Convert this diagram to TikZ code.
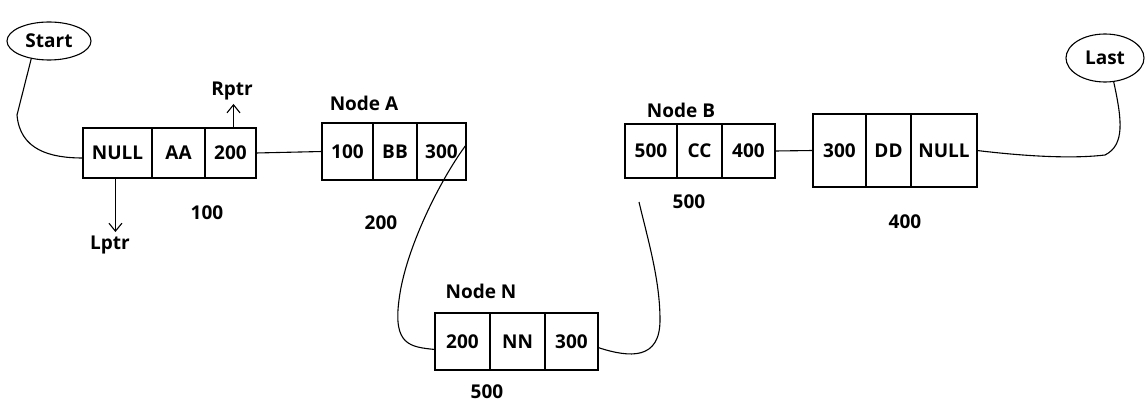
\documentclass[tikz,border=0pt]{standalone}
\usepackage{fontspec}
\setmainfont{Open Sans}
\usetikzlibrary{shapes, arrows.meta, positioning, calc}

\begin{document}
\begin{tikzpicture}[
			x=1pt, y=-1pt,
			line width=1.1pt,
			cell/.style={rectangle, draw, inner sep=0pt, outer sep=0pt, align=center, font=\fontsize{19}{22}\selectfont\bfseries},
			endpoint/.style={ellipse, draw, inner sep=0pt, font=\fontsize{19}{22}\selectfont\bfseries},
			tag/.style={font=\fontsize{19}{22}\selectfont\bfseries},
			ptr/.style={-{Straight Barb[length=8pt, width=13pt]}, line width=1.1pt}
			]
			\useasboundingbox (0,0) rectangle (1145,406);
			
			% start and last
			\node[endpoint, minimum width=84pt, minimum height=38pt] (start) at (49,41) {Start};
			\node[endpoint, minimum width=78pt, minimum height=48pt] (last) at (1105,58) {Last};
			
			% node at 100
			\node[cell, minimum width=69pt, minimum height=50pt] (a1) at (117.5,153) {NULL};
			\node[cell, minimum width=53pt, minimum height=50pt, right=0pt of a1] (a2) {AA};
			\node[cell, minimum width=51pt, minimum height=50pt, right=0pt of a2] (a3) {200};
			
			% node A at 200
			\node[cell, minimum width=51pt, minimum height=57pt] (b1) at (347.5,151.5) {100};
			\node[cell, minimum width=44pt, minimum height=57pt, right=0pt of b1] (b2) {BB};
			\node[cell, minimum width=49pt, minimum height=57pt, right=0pt of b2] (b3) {300};
			
			% node B at 300
			\node[cell, minimum width=52pt, minimum height=54pt] (c1) at (651,151) {500};
			\node[cell, minimum width=45pt, minimum height=54pt, right=0pt of c1] (c2) {CC};
			\node[cell, minimum width=53pt, minimum height=54pt, right=0pt of c2] (c3) {400};
			
			% node at 400
			\node[cell, minimum width=53pt, minimum height=73pt] (d1) at (839.5,150.5) {300};
			\node[cell, minimum width=45pt, minimum height=73pt, right=0pt of d1] (d2) {DD};
			\node[cell, minimum width=66pt, minimum height=73pt, right=0pt of d2] (d3) {NULL};
			
			% node N at 500
			\node[cell, minimum width=55pt, minimum height=57pt] (n1) at (462.5,341.5) {200};
			\node[cell, minimum width=55pt, minimum height=57pt, right=0pt of n1] (n2) {NN};
			\node[cell, minimum width=53pt, minimum height=57pt, right=0pt of n2] (n3) {300};
			
			% labels
			\node[tag] (rptr) at (232,91) {Rptr};
			\node[tag] (lptr) at (110,245) {Lptr};
			\node[tag] at (207,213) {100};
			\node[tag] at (364,103) {Node A};
			\node[tag] at (381,223) {200};
			\node[tag] at (681,110) {Node B};
			\node[tag] at (689,202) {500};
			\node[tag] at (905,222) {400};
			\node[tag] at (481,291) {Node N};
			\node[tag] at (487,392) {500};
			
			% pointers
			\draw[ptr] (a3.north) ++(3,0) coordinate (rp) -- (rp |- rptr.south);
			\draw[ptr] ($(a1.south west)!0.47!(a1.south east)$) coordinate (lp) -- (lp |- lptr.north);
			
			% links
			\draw (start.225) -- (17,115) .. controls (20,150) and (50,158) .. ($(a1.west)+(0,5)$);
			\draw (a3.east) -- (b1.west);
			\draw (c3.east) -- (d1.west);
			\draw (d3.east) .. controls (1040,158) and (1080,158) .. (1105,155) .. controls (1125,145) and (1122,120) .. (last.290);
			\draw ($(b3.north east)+(0,22)$) .. controls (440,180) and (405,250) .. (399,300) .. controls (393,345) and (410,347) .. ($(n1.west)+(0,8)$);
			\draw ($(n3.east)+(0,6)$) .. controls (630,358) and (660,360) .. (660,320) .. controls (660,280) and (648,240) .. (639,202);
		\end{tikzpicture}
\end{document}
